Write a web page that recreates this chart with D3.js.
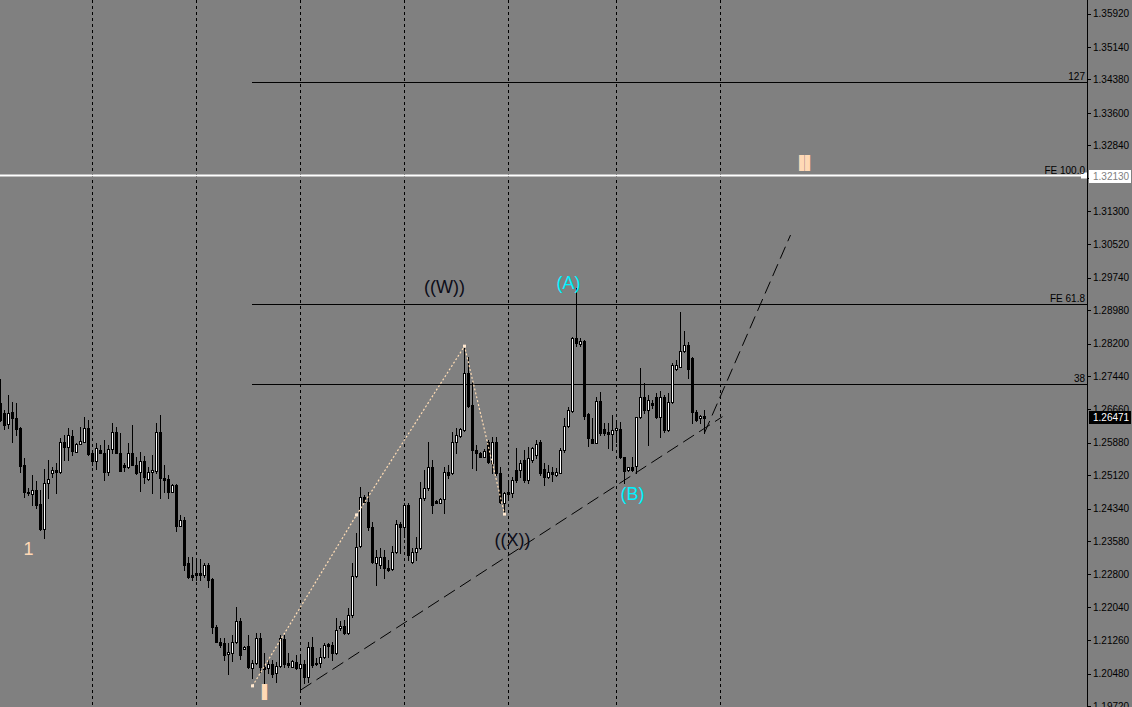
<!DOCTYPE html>
<html>
<head>
<meta charset="utf-8">
<script src="https://cdn.jsdelivr.net/npm/d3@7"></script>
<style>
html,body{margin:0;padding:0;background:#808080;overflow:hidden;}
svg{display:block;}
text{font-family:"Liberation Sans",Arial,sans-serif;}
</style>
</head>
<body>
<svg id="chart" width="1132" height="707"></svg>
<script>
// ---------- DATA ----------
const opens = [1.2681,1.2658,1.2632,1.2660,1.2646,1.2622,1.2536,1.2473,1.2468,1.2477,1.2445,1.2386,1.2494,1.2517,1.2524,1.2520,1.2590,1.2578,1.2604,1.2566,1.2585,1.2590,1.2622,1.2564,1.2545,1.2571,1.2564,1.2520,1.2573,1.2613,1.2564,1.2536,1.2531,1.2564,1.2536,1.2520,1.2545,1.2503,1.2520,1.2522,1.2613,1.2506,1.2503,1.2473,1.2489,1.2393,1.2407,1.2307,1.2279,1.2283,1.2283,1.2279,1.2302,1.2269,1.2157,1.2122,1.2119,1.2094,1.2096,1.2122,1.2171,1.2105,1.2112,1.2061,1.2073,1.2131,1.2063,1.2061,1.2070,1.2049,1.2066,1.2129,1.2073,1.2063,1.2075,1.2061,1.2070,1.2040,1.2110,1.2073,1.2073,1.2087,1.2117,1.2115,1.2096,1.2155,1.2159,1.2143,1.2185,1.2276,1.2346,1.2461,1.2449,1.2391,1.2307,1.2302,1.2321,1.2295,1.2293,1.2332,1.2398,1.2391,1.2442,1.2309,1.2332,1.2342,1.2459,1.2482,1.2531,1.2452,1.2447,1.2456,1.2520,1.2517,1.2590,1.2604,1.2618,1.2751,1.2676,1.2571,1.2564,1.2555,1.2590,1.2541,1.2590,1.2517,1.2447,1.2473,1.2470,1.2524,1.2524,1.2548,1.2501,1.2548,1.2559,1.2590,1.2527,1.2508,1.2520,1.2513,1.2517,1.2571,1.2627,1.2662,1.2833,1.2819,1.2826,1.2656,1.2597,1.2587,1.2686,1.2620,1.2613,1.2608,1.2618,1.2620,1.2555,1.2524,1.2531,1.2534,1.2648,1.2695,1.2665,1.2681,1.2695,1.2648,1.2695,1.2618,1.2683,1.2761,1.2765,1.2803,1.2817,1.2786,1.2660,1.2646,1.2651];
const highs = [1.2737,1.2665,1.2700,1.2683,1.2681,1.2625,1.2552,1.2482,1.2513,1.2498,1.2477,1.2527,1.2548,1.2531,1.2541,1.2599,1.2606,1.2622,1.2618,1.2587,1.2625,1.2648,1.2641,1.2571,1.2587,1.2583,1.2594,1.2583,1.2634,1.2625,1.2611,1.2541,1.2587,1.2629,1.2555,1.2566,1.2557,1.2531,1.2559,1.2634,1.2653,1.2536,1.2513,1.2491,1.2491,1.2419,1.2414,1.2321,1.2321,1.2318,1.2316,1.2307,1.2307,1.2272,1.2162,1.2131,1.2131,1.2119,1.2138,1.2204,1.2178,1.2112,1.2138,1.2080,1.2143,1.2143,1.2096,1.2080,1.2080,1.2075,1.2138,1.2138,1.2096,1.2080,1.2091,1.2091,1.2080,1.2122,1.2133,1.2084,1.2108,1.2119,1.2119,1.2122,1.2178,1.2171,1.2173,1.2201,1.2307,1.2377,1.2484,1.2466,1.2473,1.2403,1.2337,1.2342,1.2337,1.2314,1.2346,1.2407,1.2403,1.2447,1.2447,1.2342,1.2367,1.2496,1.2524,1.2590,1.2548,1.2454,1.2459,1.2531,1.2536,1.2613,1.2622,1.2622,1.2817,1.2789,1.2730,1.2583,1.2566,1.2573,1.2594,1.2601,1.2601,1.2531,1.2473,1.2496,1.2508,1.2576,1.2548,1.2571,1.2578,1.2578,1.2594,1.2594,1.2541,1.2536,1.2531,1.2529,1.2576,1.2646,1.2672,1.2835,1.2950,1.2833,1.2828,1.2658,1.2646,1.2695,1.2707,1.2634,1.2634,1.2653,1.2634,1.2637,1.2555,1.2531,1.2555,1.2648,1.2763,1.2728,1.2700,1.2688,1.2704,1.2709,1.2700,1.2704,1.2775,1.2782,1.2894,1.2850,1.2824,1.2789,1.2665,1.2653,1.2665];
const lows = [1.2639,1.2620,1.2622,1.2590,1.2606,1.2520,1.2461,1.2466,1.2442,1.2435,1.2384,1.2365,1.2459,1.2508,1.2470,1.2517,1.2548,1.2548,1.2559,1.2566,1.2585,1.2590,1.2559,1.2536,1.2527,1.2564,1.2501,1.2513,1.2564,1.2564,1.2522,1.2522,1.2529,1.2536,1.2515,1.2475,1.2494,1.2501,1.2470,1.2517,1.2459,1.2473,1.2459,1.2473,1.2382,1.2393,1.2290,1.2272,1.2267,1.2267,1.2267,1.2274,1.2250,1.2143,1.2122,1.2110,1.2080,1.2047,1.2077,1.2119,1.2082,1.2105,1.2061,1.2038,1.2070,1.2052,1.2026,1.2049,1.2040,1.2028,1.2063,1.2063,1.2063,1.2063,1.2059,1.2007,1.2026,1.2028,1.2063,1.2068,1.2063,1.2084,1.2087,1.2080,1.2094,1.2150,1.2140,1.2140,1.2180,1.2274,1.2344,1.2449,1.2384,1.2307,1.2255,1.2295,1.2272,1.2288,1.2290,1.2330,1.2330,1.2367,1.2314,1.2307,1.2314,1.2339,1.2454,1.2477,1.2424,1.2447,1.2447,1.2424,1.2506,1.2515,1.2564,1.2601,1.2616,1.2672,1.2529,1.2524,1.2555,1.2555,1.2541,1.2517,1.2513,1.2447,1.2426,1.2459,1.2461,1.2496,1.2508,1.2496,1.2494,1.2543,1.2552,1.2513,1.2489,1.2506,1.2498,1.2511,1.2517,1.2566,1.2625,1.2660,1.2814,1.2814,1.2644,1.2580,1.2587,1.2587,1.2606,1.2606,1.2576,1.2571,1.2590,1.2552,1.2494,1.2522,1.2522,1.2517,1.2646,1.2658,1.2583,1.2670,1.2646,1.2601,1.2613,1.2616,1.2681,1.2758,1.2765,1.2800,1.2740,1.2634,1.2639,1.2634,1.2611];
const closes = [1.2641,1.2629,1.2658,1.2646,1.2620,1.2534,1.2473,1.2470,1.2477,1.2442,1.2386,1.2494,1.2503,1.2524,1.2520,1.2590,1.2578,1.2606,1.2569,1.2585,1.2592,1.2622,1.2562,1.2545,1.2576,1.2564,1.2520,1.2573,1.2613,1.2564,1.2522,1.2531,1.2564,1.2536,1.2517,1.2545,1.2508,1.2520,1.2524,1.2613,1.2506,1.2501,1.2473,1.2489,1.2393,1.2407,1.2302,1.2274,1.2274,1.2279,1.2279,1.2302,1.2267,1.2157,1.2122,1.2115,1.2091,1.2098,1.2122,1.2171,1.2091,1.2110,1.2063,1.2073,1.2131,1.2063,1.2059,1.2070,1.2047,1.2066,1.2131,1.2070,1.2068,1.2077,1.2061,1.2070,1.2040,1.2110,1.2068,1.2070,1.2087,1.2115,1.2112,1.2096,1.2150,1.2159,1.2143,1.2185,1.2276,1.2344,1.2461,1.2449,1.2391,1.2309,1.2321,1.2321,1.2295,1.2290,1.2332,1.2398,1.2391,1.2442,1.2325,1.2332,1.2342,1.2459,1.2482,1.2531,1.2442,1.2447,1.2456,1.2520,1.2513,1.2590,1.2606,1.2620,1.2751,1.2674,1.2571,1.2564,1.2555,1.2569,1.2543,1.2590,1.2517,1.2449,1.2470,1.2468,1.2501,1.2501,1.2541,1.2501,1.2552,1.2576,1.2585,1.2517,1.2508,1.2520,1.2515,1.2520,1.2571,1.2627,1.2665,1.2833,1.2821,1.2826,1.2651,1.2599,1.2587,1.2686,1.2611,1.2611,1.2608,1.2618,1.2622,1.2555,1.2522,1.2531,1.2524,1.2648,1.2695,1.2665,1.2688,1.2676,1.2648,1.2695,1.2618,1.2683,1.2770,1.2770,1.2803,1.2817,1.2761,1.2660,1.2641,1.2651,1.2647];

const priceTicks = [1.35920,1.35140,1.34380,1.33600,1.32840,1.32080,1.31300,1.30520,1.29740,1.28980,1.28200,1.27440,1.26660,1.25880,1.25120,1.24340,1.23580,1.22800,1.22040,1.21260,1.20480,1.19720];
const separatorIdx = [23,49,75,101,127,154,180];

const fiboStartIdx = 63;
const fiboLevels = [1.3433, 1.3213, 1.2912, 1.2725];
const fiboNames = ["127", "FE 100.0", "FE 61.8", "38"];

const zigzagIdx = [63, 89, 116, 126];
const zigzagPrice = [1.2019, 1.2419, 1.2814, 1.2421];

const trend1Idx = [75, 180.5];
const trend1Price = [1.2009, 1.2649];
const trend2Idx = [176, 197.5];
const trend2Price = [1.2611, 1.3074];

const waveText = ["1", "I", "II", "((W))", "((X))", "(A)", "(B)"];
const waveIdx = [7, 66, 201, 111, 128, 142, 158];
const wavePrice = [1.2325, 1.1988, 1.3226, 1.2938, 1.2346, 1.2947, 1.2454];
const waveKind = ["peach", "roman", "roman", "dark", "dark", "cyan", "cyan"];

const targetPrice = 1.32130;
const lastPrice = 1.26471;

// ---------- DRAW ----------
const W = 1132, H = 707, axisX = 1087;
const svg = d3.select("#chart");
const x = d3.scaleLinear().domain([0, 180]).range([0.5, 720.5]);
const y = d3.scaleLinear().domain([1.19720, 1.35920]).range([705.98, 13.68]);

svg.append("rect").attr("width", W).attr("height", H).attr("fill", "#808080");

const plot = svg.append("g");
plot.append("clipPath").attr("id", "clip").append("rect").attr("width", axisX).attr("height", H);
const g = plot.append("g").attr("clip-path", "url(#clip)");

// period separators
g.selectAll("line.sep").data(separatorIdx).join("line")
  .attr("x1", d => Math.round(x(d) - 0.5) + 0.5).attr("x2", d => Math.round(x(d) - 0.5) + 0.5)
  .attr("y1", 0).attr("y2", H)
  .attr("stroke", "#000").attr("stroke-width", 1).attr("stroke-dasharray", "3,3");

// fibo lines (black ones)
fiboLevels.forEach((lv, k) => {
  const yy = Math.round(y(lv)) + 0.5;
  if (fiboNames[k] === "FE 100.0") return;
  g.append("line").attr("x1", x(fiboStartIdx) - 0.5).attr("x2", axisX).attr("y1", yy).attr("y2", yy)
    .attr("stroke", "#000").attr("stroke-width", 1);
});

// candles
const n = closes.length;
const idx = d3.range(n);
const cg = g.append("g").attr("shape-rendering", "crispEdges");
cg.selectAll("line.wick").data(idx).join("line")
  .attr("x1", i => Math.floor(x(i)) + 0.5).attr("x2", i => Math.floor(x(i)) + 0.5)
  .attr("y1", i => Math.round(y(highs[i]))).attr("y2", i => Math.round(y(lows[i])) + 1)
  .attr("stroke", "#000").attr("stroke-width", 1);
idx.forEach(i => {
  const top = Math.round(y(Math.max(opens[i], closes[i])));
  const bot = Math.round(y(Math.min(opens[i], closes[i])));
  const h = Math.max(1, bot - top);
  const bx = Math.floor(x(i)) - 1;
  cg.append("rect").attr("x", bx).attr("y", top).attr("width", 3).attr("height", h + 1).attr("fill", "#000");
  if (closes[i] > opens[i] && h >= 2) {
    cg.append("rect").attr("x", bx + 1).attr("y", top + 1).attr("width", 1).attr("height", h - 1).attr("fill", "#fff");
  }
});

// zigzag dotted path
const zz = zigzagIdx.map((d, k) => [x(d), y(zigzagPrice[k])]);
g.append("path").attr("d", d3.line()(zz)).attr("fill", "none")
  .attr("stroke", "#ffdcb4").attr("stroke-width", 1.2).attr("stroke-dasharray", "2,2");
g.selectAll("rect.zzp").data(zz).join("rect")
  .attr("x", d => d[0] - 1.5).attr("y", d => d[1] - 1.5).attr("width", 3).attr("height", 3)
  .attr("fill", "#ffe8d0");

// trend lines
[[trend1Idx, trend1Price], [trend2Idx, trend2Price]].forEach(([ix, pr]) => {
  g.append("line").attr("x1", x(ix[0])).attr("y1", y(pr[0])).attr("x2", x(ix[1])).attr("y2", y(pr[1]))
    .attr("stroke", "#000").attr("stroke-width", 1).attr("stroke-dasharray", "13,6");
});

// white FE 100 line
const yT = y(targetPrice);
g.append("rect").attr("x", 0).attr("y", Math.round(yT) - 1.5).attr("width", axisX).attr("height", 2).attr("fill", "#fff");
g.append("rect").attr("x", axisX - 6).attr("y", Math.round(yT) - 3.5).attr("width", 6).attr("height", 6).attr("fill", "#fff");

// fibo labels
fiboLevels.forEach((lv, k) => {
  svg.append("text").attr("x", axisX - 2).attr("y", Math.round(y(lv)) - 2)
    .attr("text-anchor", "end").attr("font-size", "10px").attr("fill", "#000").text(fiboNames[k]);
});

// wave labels
const styles = {
  peach: {fill: "#ffd9b6", size: 18, weight: "normal", stroke: 0},
  roman: {fill: "#ffd9b6", size: 21, weight: "bold", stroke: 2.2},
  dark: {fill: "#0c0c18", size: 18, weight: "normal", stroke: 0},
  cyan: {fill: "#00f2ff", size: 18, weight: "normal", stroke: 0}
};
waveText.forEach((t, k) => {
  const s = styles[waveKind[k]];
  const tx = svg.append("text").attr("x", x(waveIdx[k])).attr("y", y(wavePrice[k]))
    .attr("text-anchor", "middle").attr("font-size", s.size + "px").attr("font-weight", s.weight)
    .attr("fill", s.fill).text(t);
  if (s.stroke) tx.attr("stroke", s.fill).attr("stroke-width", s.stroke);
});

// ---------- AXIS ----------
const axisG = svg.append("g").attr("transform", `translate(${axisX},0)`);
axisG.append("line").attr("x1", 0.5).attr("x2", 0.5).attr("y1", 0).attr("y2", H).attr("stroke", "#000");
const yAxis = d3.axisRight(y).tickValues(priceTicks).tickFormat(d3.format(".5f")).tickSize(4).tickPadding(2);
axisG.call(yAxis);
axisG.select(".domain").remove();
axisG.selectAll(".tick line").attr("stroke", "#000").attr("shape-rendering", "crispEdges");
axisG.selectAll(".tick text").attr("fill", "#000").attr("font-size", "10px")
  .attr("font-family", "Liberation Sans, Arial, sans-serif");

// price labels
function priceLabel(p, bg, fg) {
  const yy = Math.round(y(p));
  svg.append("rect").attr("x", axisX + 2).attr("y", yy - 6).attr("width", 42).attr("height", 13).attr("fill", bg);
  svg.append("text").attr("x", axisX + 6).attr("y", yy + 4).attr("font-size", "10px").attr("fill", fg)
    .text(d3.format(".5f")(p));
}
priceLabel(targetPrice, "#fff", "#808080");
priceLabel(lastPrice, "#000", "#fff");
</script>
</body>
</html>
